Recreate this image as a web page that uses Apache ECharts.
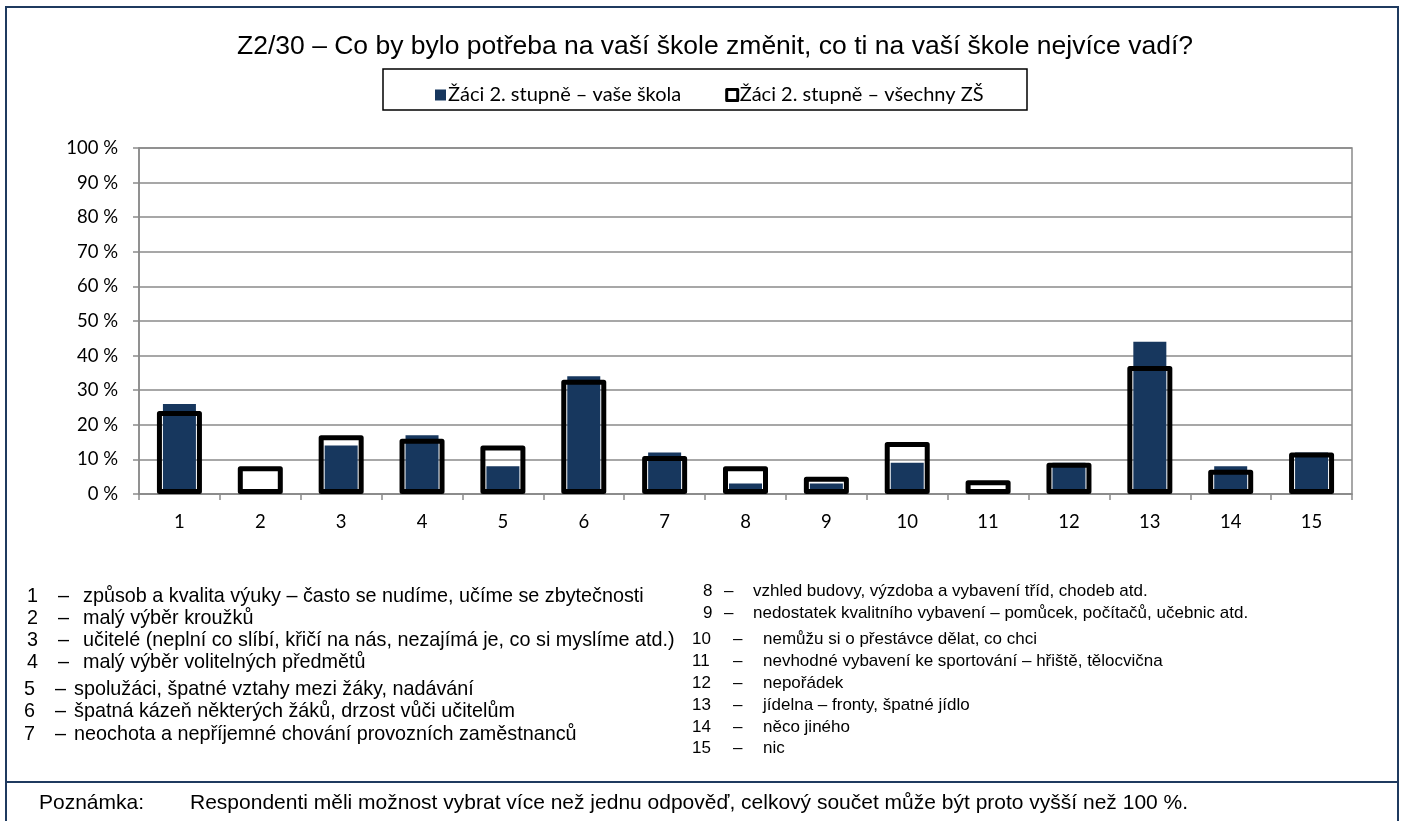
<!DOCTYPE html>
<html lang="cs">
<head>
<meta charset="utf-8">
<title>Z2/30</title>
<script src="https://cdn.jsdelivr.net/npm/echarts@6/dist/echarts.min.js"></script>
<style>
  html, body { margin: 0; padding: 0; background: #fff; }
  #chart { width: 1401px; height: 821px; }
</style>
</head>
<body>
<div id="chart"></div>
<script>
// Answer numbers shown on the x axis
const categories = ['1', '2', '3', '4', '5', '6', '7', '8', '9', '10', '11', '12', '13', '14', '15'];

// Share of pupils (%) choosing each answer
const skolaValues = [26, 1, 14, 17, 8, 34, 12, 3, 3, 9, 0, 9, 44, 8, 12];
const vsechnyValues = [24, 8, 17, 16, 14, 33, 11, 8, 5, 15, 4, 9, 37, 7, 12];

const seriesNames = ['Žáci 2. stupně – vaše škola', 'Žáci 2. stupně – všechny ZŠ'];

const titleText = 'Z2/30 – Co by bylo potřeba na vaší škole změnit, co ti na vaší škole nejvíce vadí?';

// Value axis range
const yMin = 0;
const yMax = 100;
const yStep = 10;

// Key of the answer numbers
const answerTexts = [
  'způsob a kvalita výuky – často se nudíme, učíme se zbytečnosti',
  'malý výběr kroužků',
  'učitelé (neplní co slíbí, křičí na nás, nezajímá je, co si myslíme atd.)',
  'malý výběr volitelných předmětů',
  'spolužáci, špatné vztahy mezi žáky, nadávání',
  'špatná kázeň některých žáků, drzost vůči učitelům',
  'neochota a nepříjemné chování provozních zaměstnanců',
  'vzhled budovy, výzdoba a vybavení tříd, chodeb atd.',
  'nedostatek kvalitního vybavení – pomůcek, počítačů, učebnic atd.',
  'nemůžu si o přestávce dělat, co chci',
  'nevhodné vybavení ke sportování – hřiště, tělocvična',
  'nepořádek',
  'jídelna – fronty, špatné jídlo',
  'něco jiného',
  'nic'
];

const noteLabel = 'Poznámka:';
const noteText = 'Respondenti měli možnost vybrat více než jednu odpověď, celkový součet může být proto vyšší než 100 %.';

// ---- layout of the answer key (two columns) ----
const FRAME = '#1F3A5F';
const leftFont = '19.8px "Liberation Sans", Arial, sans-serif';
const rightFont = '17px "Liberation Sans", Arial, sans-serif';
const leftRows = [597, 619, 641, 663, 690, 712, 735];
const rightRows = [591, 613, 639, 661, 683, 705, 727, 748];

function keyLine(num, desc, y, xNum, xDash, xText, font) {
  const base = { font: font, fill: '#000', verticalAlign: 'middle', align: 'left' };
  return [
    { type: 'text', silent: true, style: Object.assign({ text: num, x: xNum, y: y }, base) },
    { type: 'text', silent: true, style: Object.assign({ text: '–', x: xDash, y: y }, base) },
    { type: 'text', silent: true, style: Object.assign({ text: desc, x: xText, y: y }, base) }
  ];
}

const keyGraphics = [];
answerTexts.forEach(function (desc, i) {
  const num = categories[i];
  if (i < 7) {
    const lower = i >= 4;
    keyGraphics.push.apply(keyGraphics, keyLine(num, desc, leftRows[i],
      lower ? 24 : 27, lower ? 55 : 58, lower ? 74 : 83, leftFont));
  } else {
    const two = num.length > 1;
    keyGraphics.push.apply(keyGraphics, keyLine(num, desc, rightRows[i - 7],
      two ? 692 : 703, two ? 733 : 724, two ? 763 : 753, rightFont));
  }
});

const chart = echarts.init(document.getElementById('chart'), null, { renderer: 'canvas' });

const axisFont = 'Lato';
const gridGray = '#8a8a8a';

chart.setOption({
  backgroundColor: '#ffffff',
  animation: false,
  title: {
    text: titleText,
    left: 232,
    top: 28,
    textStyle: {
      fontFamily: '"Liberation Sans", Arial, sans-serif',
      fontSize: 26.5,
      fontWeight: 'normal',
      color: '#000'
    }
  },
  legend: {
    left: 430,
    top: 80,
    itemWidth: 11,
    itemHeight: 11,
    itemGap: 44,
    selectedMode: false,
    textStyle: { fontFamily: axisFont, fontSize: 20, color: '#000', padding: [0, 0, 0, -3] },
    data: [
      { name: seriesNames[0], icon: 'rect', itemStyle: { color: '#17375E', borderWidth: 0 } },
      { name: seriesNames[1], icon: 'rect', itemStyle: { color: '#ffffff', borderColor: '#000', borderWidth: 3 } }
    ]
  },
  grid: {
    left: 139,
    right: 49,
    top: 148,
    bottom: 327,
    show: true,
    borderColor: gridGray,
    borderWidth: 1.5,
    backgroundColor: 'transparent'
  },
  xAxis: [
    {
      type: 'category',
      data: categories,
      axisLine: { show: true, lineStyle: { color: gridGray, width: 1.5 } },
      axisTick: { show: true, length: 6, lineStyle: { color: gridGray, width: 1.5 } },
      axisLabel: { color: '#000', fontFamily: axisFont, fontSize: 18.5, margin: 19 },
      splitLine: { show: false }
    },
    {
      type: 'category',
      data: categories,
      show: false,
      position: 'bottom'
    }
  ],
  yAxis: {
    type: 'value',
    min: yMin,
    max: yMax,
    interval: yStep,
    axisLine: { show: true, lineStyle: { color: gridGray, width: 1.5 } },
    axisTick: { show: true, length: 6, lineStyle: { color: gridGray, width: 1.5 } },
    axisLabel: {
      color: '#000',
      fontFamily: axisFont,
      fontSize: 18.5,
      margin: 21,
      formatter: function (v) { return v + ' %'; }
    },
    splitLine: { show: true, lineStyle: { color: gridGray, width: 1.5 } }
  },
  series: [
    {
      name: seriesNames[0],
      type: 'bar',
      xAxisIndex: 0,
      data: skolaValues,
      barWidth: 33,
      z: 2,
      itemStyle: { color: '#17375E' }
    },
    {
      name: seriesNames[1],
      type: 'bar',
      xAxisIndex: 1,
      data: vsechnyValues,
      barWidth: 45,
      z: 3,
      itemStyle: {
        color: 'rgba(255,255,255,0)',
        borderColor: '#000',
        borderWidth: 5,
        borderJoin: 'round'
      }
    }
  ],
  graphic: [
    // outer frame
    { type: 'rect', silent: true, z: 0, shape: { x: 6, y: 7, width: 1392, height: 830 }, style: { fill: 'none', stroke: FRAME, lineWidth: 2 } },
    // legend box
    { type: 'rect', silent: true, shape: { x: 383, y: 69, width: 644, height: 41 }, style: { fill: 'none', stroke: '#000', lineWidth: 1.5 } },
    // separator above the note
    { type: 'line', silent: true, shape: { x1: 6, y1: 782, x2: 1398, y2: 782 }, style: { stroke: FRAME, lineWidth: 2 } },
    { type: 'text', silent: true, style: { text: noteLabel, x: 39, y: 803, font: '21px "Liberation Sans", Arial, sans-serif', fill: '#000', verticalAlign: 'middle' } },
    { type: 'text', silent: true, style: { text: noteText, x: 190, y: 803, font: '21px "Liberation Sans", Arial, sans-serif', fill: '#000', verticalAlign: 'middle' } }
  ].concat(keyGraphics)
});
</script>
</body>
</html>
